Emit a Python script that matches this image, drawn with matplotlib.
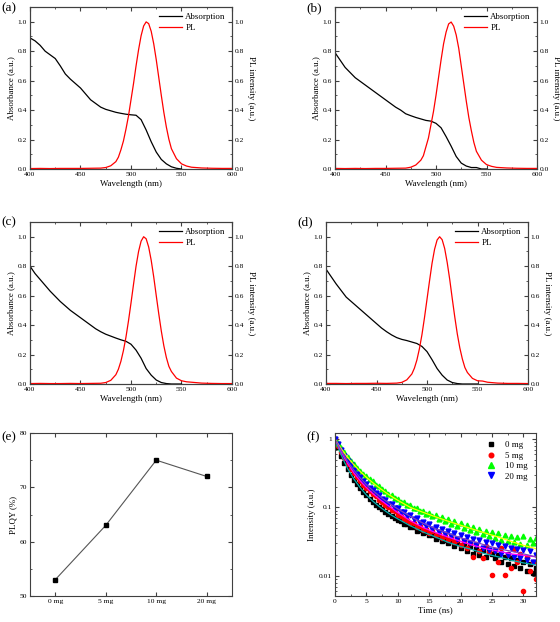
import numpy as np
import matplotlib
matplotlib.use('Agg')
import matplotlib.pyplot as plt
from matplotlib.ticker import MultipleLocator, FixedLocator, NullFormatter
from matplotlib.lines import Line2D

plt.rcParams['font.family'] = ['Liberation Serif', 'DejaVu Serif']
plt.rcParams['axes.edgecolor'] = '#404040'
plt.rcParams['axes.linewidth'] = 0.8
plt.rcParams['xtick.direction'] = 'in'
plt.rcParams['ytick.direction'] = 'in'
plt.rcParams['xtick.major.size'] = 3
plt.rcParams['ytick.major.size'] = 3
plt.rcParams['xtick.minor.size'] = 1.5
plt.rcParams['ytick.minor.size'] = 1.5
plt.rcParams['xtick.color'] = '#404040'
plt.rcParams['ytick.color'] = '#404040'
plt.rcParams['xtick.labelcolor'] = 'black'
plt.rcParams['ytick.labelcolor'] = 'black'

# absorption spectra (400-550 nm, 5 nm steps)
wl_abs = [400, 405, 410, 415, 420, 425, 430, 435, 440, 445, 450, 455, 460, 465, 470,
          475, 480, 485, 490, 495, 500, 505, 510, 515, 520, 525, 530, 535, 540, 545, 550]
abs_a = [0.89, 0.87, 0.84, 0.80, 0.775, 0.75, 0.70, 0.645, 0.61, 0.58, 0.55, 0.51, 0.47, 0.445, 0.42,
         0.405, 0.395, 0.385, 0.378, 0.372, 0.368, 0.365, 0.335, 0.265, 0.185, 0.115, 0.065, 0.035, 0.015, 0.005, 0.0]
abs_b = [0.79, 0.74, 0.69, 0.655, 0.62, 0.595, 0.57, 0.545, 0.52, 0.495, 0.47, 0.445, 0.42, 0.40, 0.375,
         0.362, 0.35, 0.34, 0.33, 0.325, 0.31, 0.28, 0.22, 0.155, 0.085, 0.04, 0.02, 0.01, 0.01, 0.0, 0.0]
abs_c = [0.80, 0.75, 0.71, 0.67, 0.63, 0.595, 0.56, 0.53, 0.50, 0.475, 0.45, 0.425, 0.40, 0.375, 0.355,
         0.338, 0.325, 0.312, 0.30, 0.29, 0.27, 0.23, 0.175, 0.105, 0.06, 0.027, 0.01, 0.003, 0.0, 0.0, 0.0]
abs_d = [0.78, 0.73, 0.68, 0.635, 0.59, 0.56, 0.53, 0.50, 0.47, 0.44, 0.41, 0.38, 0.355, 0.333, 0.315,
         0.303, 0.295, 0.285, 0.275, 0.255, 0.22, 0.165, 0.105, 0.06, 0.027, 0.01, 0.003, 0.0, 0.0, 0.0, 0.0]

# PL spectra
wl_pl = [400, 410, 420, 430, 440, 450, 460, 470, 475, 480, 485, 487.5, 490, 492.5, 495, 497.5,
         500, 502.5, 505, 507.5, 510, 512.5, 515, 517.5, 520, 522.5, 525, 527.5, 530, 532.5,
         535, 537.5, 540, 545, 550, 555, 560, 570, 580, 590, 600]
pl_a = [0.003, 0.004, 0.003, 0.004, 0.004, 0.004, 0.005, 0.006, 0.01, 0.022, 0.05, 0.08, 0.13, 0.19, 0.27, 0.36,
        0.47, 0.58, 0.70, 0.81, 0.905, 0.971, 0.999, 0.987, 0.935, 0.85, 0.742, 0.621, 0.50, 0.385,
        0.285, 0.202, 0.138, 0.07, 0.035, 0.02, 0.012, 0.007, 0.005, 0.004, 0.004]
pl_b = [0.004, 0.003, 0.004, 0.003, 0.004, 0.004, 0.005, 0.006, 0.012, 0.027, 0.06, 0.09, 0.15, 0.21, 0.30, 0.39,
        0.50, 0.62, 0.74, 0.85, 0.93, 0.985, 0.998, 0.97, 0.91, 0.82, 0.70, 0.58, 0.46, 0.35,
        0.26, 0.18, 0.12, 0.06, 0.03, 0.018, 0.011, 0.007, 0.005, 0.004, 0.004]
pl_c = [0.003, 0.004, 0.003, 0.003, 0.004, 0.003, 0.004, 0.005, 0.01, 0.025, 0.063, 0.10, 0.154, 0.227, 0.318, 0.428,
        0.55, 0.677, 0.80, 0.90, 0.97, 1.0, 0.986, 0.93, 0.84, 0.727, 0.60, 0.476, 0.36, 0.26,
        0.18, 0.12, 0.085, 0.04, 0.022, 0.015, 0.012, 0.006, 0.004, 0.003, 0.003]
pl_d = [0.004, 0.004, 0.003, 0.004, 0.004, 0.005, 0.004, 0.006, 0.011, 0.028, 0.068, 0.107, 0.163, 0.24, 0.335, 0.45,
        0.575, 0.70, 0.82, 0.915, 0.978, 1.0, 0.98, 0.92, 0.825, 0.71, 0.58, 0.455, 0.34, 0.245,
        0.17, 0.112, 0.078, 0.038, 0.022, 0.02, 0.012, 0.006, 0.004, 0.004, 0.003]

# PLQY
plqy_labels = ['0 mg', '5 mg', '10 mg', '20 mg']
plqy_values = [53, 63, 75, 72]

# TRPL decay, 0 to 32 ns in 0.5 ns steps
decay_t = np.arange(0, 32.5, 0.5)
decay_0 = [1.00, 0.75, 0.57, 0.45, 0.36, 0.30, 0.255, 0.22, 0.19, 0.168, 0.150, 0.133, 0.122, 0.110, 0.101, 0.094,
           0.086, 0.081, 0.074, 0.071, 0.065, 0.063, 0.058, 0.057, 0.052, 0.051, 0.046, 0.047, 0.042, 0.044,
           0.039, 0.040, 0.035, 0.037, 0.032, 0.034, 0.030, 0.032, 0.027, 0.030, 0.026, 0.028, 0.023, 0.027,
           0.021, 0.025, 0.020, 0.024, 0.019, 0.022, 0.021, 0.018, 0.020, 0.016, 0.019, 0.015, 0.018, 0.014,
           0.017, 0.013, 0.016, 0.012, 0.015, 0.011, 0.013]
decay_5 = [1.0, 0.80, 0.64, 0.53, 0.43, 0.37, 0.315, 0.28, 0.24, 0.215, 0.19, 0.175, 0.155, 0.145, 0.128, 0.122,
           0.108, 0.102, 0.092, 0.088, 0.078, 0.076, 0.068, 0.066, 0.059, 0.060, 0.052, 0.054, 0.047, 0.049,
           0.043, 0.045, 0.039, 0.041, 0.036, 0.038, 0.033, 0.036, 0.031, 0.033, 0.028, 0.032, 0.026, 0.030,
           0.019, 0.029, 0.023, 0.018, 0.027, 0.022, 0.0105, 0.024, 0.016, 0.026, 0.0105, 0.021, 0.013, 0.025,
           0.016, 0.021, 0.006, 0.019, 0.012, 0.016, 0.009]
decay_10 = [1.0, 0.86, 0.74, 0.64, 0.55, 0.48, 0.43, 0.38, 0.345, 0.31, 0.285, 0.26, 0.24, 0.215, 0.205, 0.185,
            0.175, 0.158, 0.153, 0.138, 0.135, 0.122, 0.12, 0.108, 0.107, 0.097, 0.098, 0.088, 0.09, 0.08,
            0.083, 0.074, 0.078, 0.068, 0.072, 0.063, 0.067, 0.058, 0.063, 0.054, 0.059, 0.050, 0.055, 0.047,
            0.052, 0.044, 0.049, 0.041, 0.046, 0.038, 0.044, 0.036, 0.042, 0.034, 0.040, 0.032, 0.038, 0.031,
            0.037, 0.029, 0.038, 0.028, 0.035, 0.030, 0.036]
decay_20 = [1.0, 0.83, 0.69, 0.57, 0.48, 0.41, 0.35, 0.31, 0.275, 0.24, 0.22, 0.19, 0.18, 0.16, 0.152, 0.133,
            0.129, 0.114, 0.112, 0.099, 0.097, 0.086, 0.087, 0.076, 0.077, 0.067, 0.069, 0.059, 0.062, 0.053,
            0.057, 0.048, 0.052, 0.044, 0.048, 0.041, 0.045, 0.038, 0.042, 0.035, 0.039, 0.032, 0.037, 0.030,
            0.035, 0.028, 0.033, 0.026, 0.031, 0.024, 0.030, 0.023, 0.028, 0.021, 0.027, 0.020, 0.026, 0.019,
            0.025, 0.018, 0.024, 0.017, 0.023, 0.016, 0.020]

# fitted curves
fit_t = [0, 0.5, 1, 1.5, 2, 3, 4, 5, 6, 7, 8, 9, 10, 12, 14, 16, 18, 20, 22, 24, 26, 28, 30, 32]
fit_0 = [1.0, 0.76, 0.58, 0.46, 0.37, 0.26, 0.195, 0.152, 0.124, 0.104, 0.089, 0.077, 0.068, 0.054, 0.044,
         0.037, 0.031, 0.027, 0.024, 0.021, 0.019, 0.017, 0.0155, 0.0145]
fit_5 = [1.0, 0.80, 0.65, 0.53, 0.44, 0.32, 0.245, 0.195, 0.16, 0.134, 0.114, 0.098, 0.084, 0.064, 0.051,
         0.043, 0.037, 0.032, 0.028, 0.025, 0.023, 0.021, 0.020, 0.019]
fit_10 = [1.0, 0.84, 0.72, 0.62, 0.54, 0.42, 0.335, 0.275, 0.23, 0.195, 0.167, 0.145, 0.127, 0.10, 0.085,
          0.073, 0.063, 0.055, 0.048, 0.042, 0.037, 0.032, 0.028, 0.025]
fit_20 = [1.0, 0.82, 0.68, 0.56, 0.47, 0.35, 0.27, 0.215, 0.177, 0.148, 0.126, 0.109, 0.095, 0.074, 0.059,
          0.049, 0.042, 0.036, 0.032, 0.028, 0.025, 0.023, 0.021, 0.019]

fig = plt.figure(figsize=(5.6, 6.22), dpi=100)
W, H = 560.0, 622.0


def rect(x0, y0, x1, y1):
    return [x0 / W, 1 - y1 / H, (x1 - x0) / W, (y1 - y0) / H]


TICK = 5.4
LAB = 6.4


def spectra(r, absv, plv, tag, tagx, tagy):
    ax = fig.add_axes(r)
    ax.plot(wl_abs, absv, color='black', lw=0.9)
    ax.set_xlim(400, 600)
    ax.set_ylim(0, 1.1)
    ax.xaxis.set_major_locator(MultipleLocator(50))
    ax.xaxis.set_minor_locator(MultipleLocator(25))
    ax.yaxis.set_major_locator(MultipleLocator(0.2))
    ax.yaxis.set_minor_locator(MultipleLocator(0.1))
    ax.yaxis.set_major_formatter(plt.FormatStrFormatter('%.1f'))
    ax.tick_params(labelsize=TICK, pad=2)
    ax.tick_params(which='both', top=True)
    ax.set_xlabel('Wavelength (nm)', fontsize=LAB, labelpad=2)
    ax.set_ylabel('Absorbance (a.u.)', fontsize=LAB, labelpad=2)
    ax2 = ax.twinx()
    ax2.plot(wl_pl, plv, color='red', lw=0.9)
    ax2.set_ylim(0, 1.1)
    ax2.yaxis.set_major_locator(MultipleLocator(0.2))
    ax2.yaxis.set_minor_locator(MultipleLocator(0.1))
    ax2.yaxis.set_major_formatter(plt.FormatStrFormatter('%.1f'))
    ax2.tick_params(labelsize=TICK, pad=2)
    ax2.set_ylabel('PL intensity (a.u.)', fontsize=LAB, rotation=270, labelpad=8)
    handles = [Line2D([], [], color='black', lw=0.9), Line2D([], [], color='red', lw=0.9)]
    ax2.legend(handles, ['Absorption', 'PL'], loc='upper right', frameon=False, fontsize=LAB,
               handlelength=2.6, handletextpad=0.4, labelspacing=0.25, borderaxespad=0.3)
    fig.text(tagx / W, 1 - tagy / H, tag, fontsize=9.5, va='center', ha='left')
    return ax


spectra(rect(30, 7, 232, 169), abs_a, pl_a, '(a)', 1, 8)
spectra(rect(335, 7, 537, 169), abs_b, pl_b, '(b)', 306, 8)
spectra(rect(30, 222, 232, 384), abs_c, pl_c, '(c)', 1, 222)
spectra(rect(326, 222, 528, 384), abs_d, pl_d, '(d)', 297, 222)

# (e) PLQY
axe = fig.add_axes(rect(30, 433, 232, 596))
xs = np.arange(len(plqy_values))
axe.plot(xs, plqy_values, color='#555555', lw=0.8, marker='s', markersize=3.2,
         markerfacecolor='black', markeredgecolor='black')
axe.set_xlim(-0.5, 3.5)
axe.set_ylim(50, 80)
axe.set_xticks(xs)
axe.set_xticklabels(plqy_labels)
axe.yaxis.set_major_locator(MultipleLocator(10))
axe.yaxis.set_minor_locator(MultipleLocator(5))
axe.tick_params(labelsize=TICK, pad=2)
axe.tick_params(which='both', right=True, top=True)
axe.set_ylabel('PLQY (%)', fontsize=LAB, labelpad=2)
fig.text(1 / W, 1 - 437 / H, '(e)', fontsize=9.5, va='center', ha='left')

# (f) TRPL
axf = fig.add_axes(rect(335, 433, 536, 596))
ms = 3.0
axf.plot(decay_t, decay_0, ls='none', marker='s', ms=ms, color='black', label='0 mg')
axf.plot(decay_t, decay_5, ls='none', marker='o', ms=ms, color='red', label='5 mg')
axf.plot(decay_t, decay_10, ls='none', marker='^', ms=ms + 0.5, color='#00ff00', label='10 mg')
axf.plot(decay_t, decay_20, ls='none', marker='v', ms=ms + 0.5, color='blue', label='20 mg')
axf.plot(fit_t, fit_0, color='#00b0b0', lw=0.9)
axf.plot(fit_t, fit_5, color='magenta', lw=0.9)
axf.plot(fit_t, fit_10, color='yellow', lw=0.9)
axf.plot(fit_t, fit_20, color='#8040c0', lw=0.9)
axf.set_yscale('log')
axf.set_ylim(0.0051, 1.22)
axf.set_xlim(0, 32)
axf.xaxis.set_major_locator(MultipleLocator(5))
axf.xaxis.set_minor_locator(MultipleLocator(2.5))
axf.yaxis.set_major_locator(FixedLocator([0.01, 0.1, 1]))
axf.set_yticklabels(['0.01', '0.1', '1'])
axf.yaxis.set_minor_formatter(NullFormatter())
axf.tick_params(labelsize=TICK, pad=2)
axf.tick_params(which='both', right=True, top=True)
axf.set_xlabel('Time (ns)', fontsize=LAB, labelpad=2)
axf.set_ylabel('Intensity (a.u.)', fontsize=LAB, labelpad=2)
axf.legend(loc='upper right', frameon=False, fontsize=LAB, handletextpad=0.6,
           labelspacing=0.25, borderaxespad=0.5, markerscale=1.1)
fig.text(306 / W, 1 - 437 / H, '(f)', fontsize=9.5, va='center', ha='left')

fig.savefig('out.png', dpi=100)
